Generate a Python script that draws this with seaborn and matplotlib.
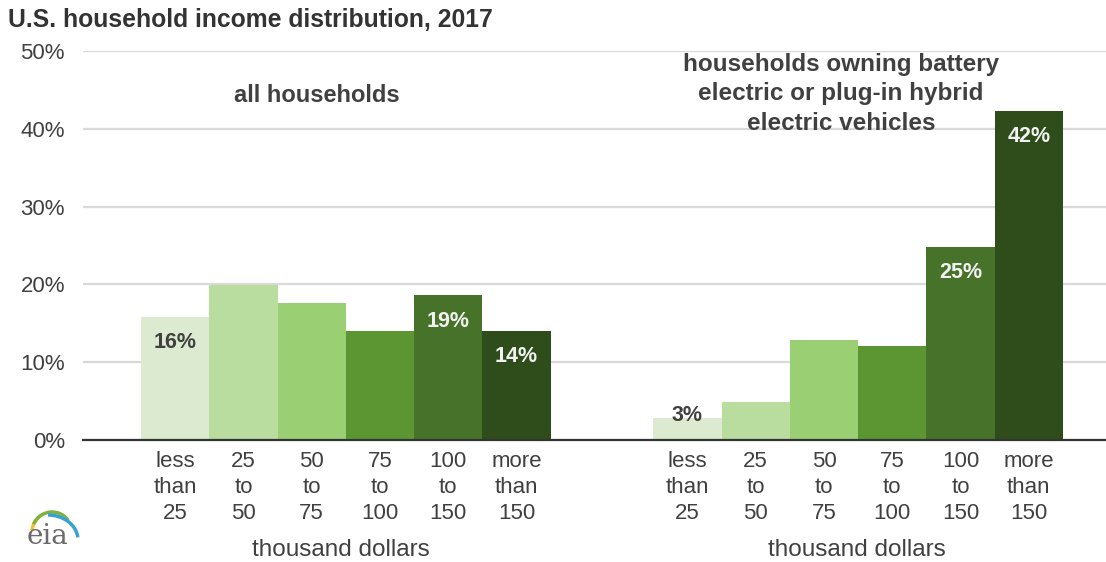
import matplotlib
matplotlib.use("Agg")
import matplotlib.pyplot as plt
from matplotlib.patches import Arc
import seaborn as sns
import pandas as pd

# data (percent of households)
income_bins = ["less\nthan\n25", "25\nto\n50", "50\nto\n75", "75\nto\n100", "100\nto\n150", "more\nthan\n150"]
all_households = [15.8, 19.9, 17.6, 14.0, 18.6, 14.0]
ev_households = [2.8, 4.9, 12.9, 12.1, 24.8, 42.3]
shown_labels_all = ["16%", None, None, None, "19%", "14%"]
shown_labels_ev = ["3%", None, None, None, "25%", "42%"]
group_titles = ["all households", "households owning battery\nelectric or plug-in hybrid\nelectric vehicles"]
y_ticks = [0, 10, 20, 30, 40, 50]

greens = ["#dcebd0", "#b9dc9f", "#9bcf73", "#5b9632", "#477229", "#2f4d1b"]
label_colors = ["#404040", "#404040", "#404040", "#f2f2f2", "#f2f2f2", "#f2f2f2"]
TEXT = "#404040"
FONT = "Liberation Sans"

sns.set_theme(style="white")
plt.rcParams["font.family"] = [FONT, "DejaVu Sans"]

n = len(income_bins)
gap = 1.5
pos_all = list(range(n))
pos_ev = [p + n + gap for p in pos_all]

df = pd.DataFrame({
    "pos": pos_all + pos_ev,
    "value": all_households + ev_households,
    "bin": list(range(n)) * 2,
})

fig = plt.figure(figsize=(11.06, 5.62), dpi=100)
ax = fig.add_axes([0.075, 0.217, 0.925, 0.692])

sns.barplot(data=df, x="pos", y="value", hue="bin", palette=greens, native_scale=True,
            width=1.0, dodge=False, legend=False, saturation=1, linewidth=0, ax=ax)

ax.set_xlim(-1.35, pos_ev[-1] + 1.13)
ax.set_ylim(0, 50)
ax.set_yticks(y_ticks)
ax.set_yticklabels([f"{t}%" for t in y_ticks])
ax.yaxis.grid(True, color="#d9d9d9", linewidth=1.6)
ax.set_axisbelow(True)
for s in ["top", "right", "left"]:
    ax.spines[s].set_visible(False)
ax.spines["bottom"].set_color("#333333")
ax.spines["bottom"].set_linewidth(1.6)
ax.tick_params(axis="y", length=0, pad=13, labelsize=16, labelcolor=TEXT)
ax.tick_params(axis="x", length=0, pad=8, labelsize=16, labelcolor=TEXT)
ax.set_xticks(pos_all + pos_ev)
ax.set_xticklabels(income_bins * 2, linespacing=1.3)
ax.set_xlabel("")
ax.set_ylabel("")

# value labels inside bars
for positions, values, labels in [(pos_all, all_households, shown_labels_all),
                                  (pos_ev, ev_households, shown_labels_ev)]:
    for i, (p, v, lab) in enumerate(zip(positions, values, labels)):
        if lab is None:
            continue
        y = v - 3.3 if v > 8 else v + 0.4
        ax.text(p, y, lab, ha="center", va="center", fontsize=15.5, fontweight="bold",
                color=label_colors[i])

# group titles
ax.text(2.08, 44.3, group_titles[0], ha="center", va="center", fontsize=17,
        fontweight="bold", color=TEXT)
ax.text(9.75, 44.5, group_titles[1], ha="center", va="center", fontsize=17.5,
        fontweight="bold", color=TEXT, linespacing=1.38)

# axis titles under each group
for center in [2.43, 9.98]:
    ax.text(center, -14.1, "thousand dollars", ha="center", va="center", fontsize=17.5,
            color=TEXT, clip_on=False)

fig.text(0.007, 0.964, "U.S. household income distribution, 2017", ha="left", va="center",
         fontsize=17.8, fontweight="bold", color="#333333")

# rough eia logo
W, H = 1106, 562
fig.text(47 / W, 1 - 536 / H, "eia", ha="center", va="center", fontsize=20,
         color="#6b6b6b", family="DejaVu Serif")
for (cx, cy, rx, ry, t1, t2, c) in [(52, 532, 20, 20, 110, 170, "#f2c230"),
                                    (52, 532, 20, 20, 55, 140, "#7fb241"),
                                    (48, 540, 30, 25, 10, 90, "#3aa0d8")]:
    fig.add_artist(Arc((cx / W, 1 - cy / H), 2 * rx / W, 2 * ry / H, theta1=t1, theta2=t2,
                       transform=fig.transFigure, color=c, lw=2.5))

fig.savefig("out.png", dpi=100)
